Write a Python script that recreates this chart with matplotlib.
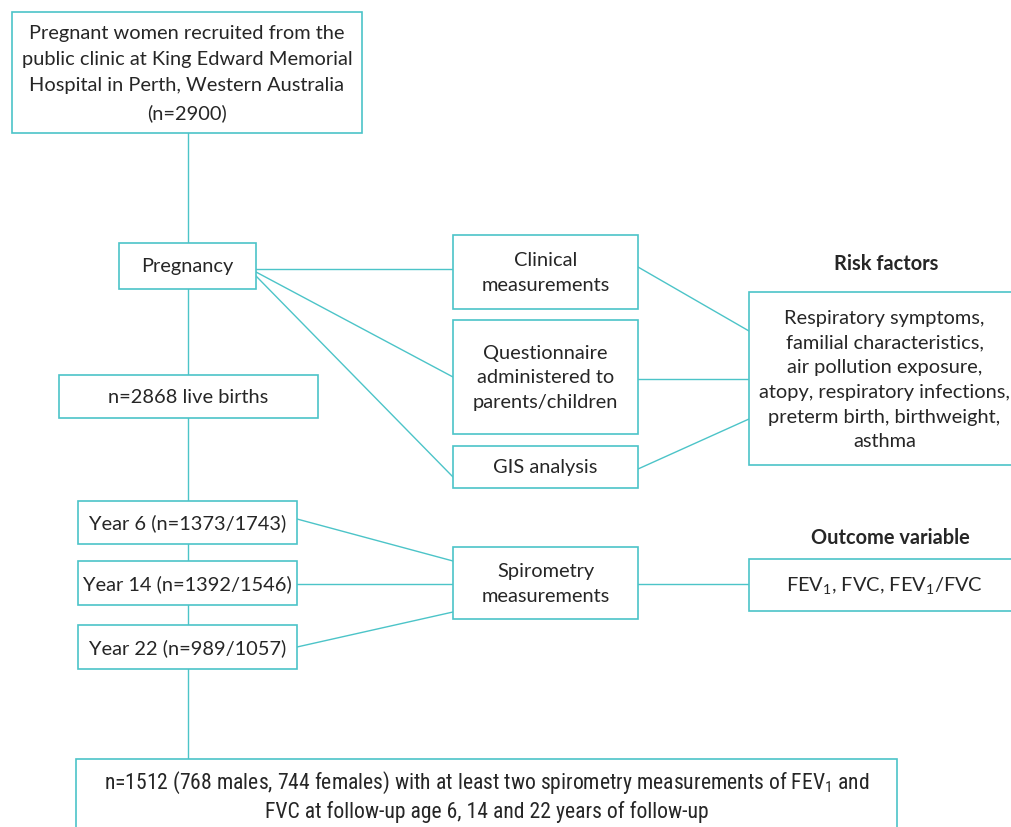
import matplotlib
matplotlib.use("Agg")
import matplotlib.pyplot as plt
from matplotlib.patches import Rectangle
from matplotlib import font_manager

# box texts
top_text = "Pregnant women recruited from the\npublic clinic at King Edward Memorial\nHospital in Perth, Western Australia\n(n=2900)"
pregnancy_text = "Pregnancy"
births_text = "n=2868 live births"
method_texts = ["Clinical\nmeasurements",
                "Questionnaire\nadministered to\nparents/children",
                "GIS analysis"]
risk_title = "Risk factors"
risk_text = ("Respiratory symptoms,\nfamilial characteristics,\nair pollution exposure,\n"
             "atopy, respiratory infections,\npreterm birth, birthweight,\nasthma")
year_texts = ["Year 6 (n=1373/1743)", "Year 14 (n=1392/1546)", "Year 22 (n=989/1057)"]
spiro_text = "Spirometry\nmeasurements"
outcome_title = "Outcome variable"
outcome_text = r"FEV$_\mathregular{1}$, FVC, FEV$_\mathregular{1}$/FVC"
final_text = ("n=1512 (768 males, 744 females) with at least two spirometry measurements of FEV$_\\mathregular{1}$ and\n"
              "FVC at follow-up age 6, 14 and 22 years of follow-up")

# layout in pixels (x0, y0, x1, y1), y downward
top_box = (12, 13, 362, 134)
preg_box = (119, 244, 256, 290)
birth_box = (59, 376, 318, 419)
method_boxes = [(453, 236, 638, 310), (453, 321, 638, 435), (453, 447, 638, 489)]
risk_box = (749, 293, 1020, 466)
year_boxes = [(78, 502, 297, 545), (78, 562, 297, 606), (78, 626, 297, 670)]
spiro_box = (453, 548, 638, 620)
outcome_box = (749, 560, 1020, 612)
final_box = (76, 760, 897, 850)

TEAL = "#4cc4c8"
TXT = "#262626"
FONT = "Lato"
FS = 14.4

# narrow face for the bottom box, if one is there
names = {f.name for f in font_manager.fontManager.ttflist}
narrow = next((n for n in ["DejaVu Sans Condensed", "Liberation Sans Narrow",
                           "Roboto Condensed", "Open Sans Condensed"] if n in names), None)

fig = plt.figure(figsize=(10.12, 8.28), dpi=100)
ax = fig.add_axes([0, 0, 1, 1])
ax.set_xlim(0, 1012)
ax.set_ylim(828, 0)
ax.axis("off")


def box(b, text, fs=FS, family=FONT, ls=1.55, cy=None):
    x0, y0, x1, y1 = b
    ax.add_patch(Rectangle((x0, y0), x1 - x0, y1 - y0, fill=True, facecolor="white",
                           edgecolor=TEAL, lw=1.2, zorder=3))
    ty = (y0 + y1) / 2 if cy is None else cy
    ax.text((x0 + x1) / 2, ty, text, ha="center", va="center",
            fontsize=fs, family=family, color=TXT, linespacing=ls, zorder=4)


def line(p, q):
    ax.plot([p[0], q[0]], [p[1], q[1]], color=TEAL, lw=1.0, zorder=1)


# trunk
line((188, 134), (188, 760))

# pregnancy to methods
line((256, 270), (453, 270))
line((256, 273), (453, 378))
line((256, 277), (453, 478))

# methods to risk factors
line((638, 268), (749, 332))
line((638, 380), (749, 380))
line((638, 470), (749, 420))

# years to spirometry
line((297, 520), (453, 562))
line((297, 585), (453, 585))
line((297, 648), (453, 613))
line((638, 585), (749, 585))

box(top_box, top_text, ls=1.65)
box(preg_box, pregnancy_text)
box(birth_box, births_text)
for b, t in zip(method_boxes, method_texts):
    box(b, t)
box(risk_box, risk_text, cy=380)
for b, t in zip(year_boxes, year_texts):
    box(b, t)
box(spiro_box, spiro_text)
box(outcome_box, outcome_text)
if narrow:
    box(final_box, final_text, fs=15.6, family=narrow, ls=1.3, cy=796)
else:
    box(final_box, final_text, fs=13.6, family=FONT, ls=1.3, cy=796)

ax.text(886, 264, risk_title, ha="center", va="center", fontsize=FS,
        family=FONT, fontweight="bold", color=TXT)
ax.text(890, 538, outcome_title, ha="center", va="center", fontsize=FS,
        family=FONT, fontweight="bold", color=TXT)

fig.savefig("out.png", dpi=100, facecolor="white")
